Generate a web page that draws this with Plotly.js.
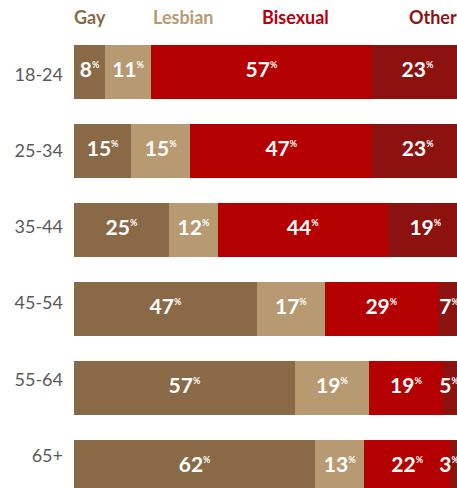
<!DOCTYPE html>
<html>
<head>
<meta charset="utf-8">
<script src="https://cdn.plot.ly/plotly-3.0.1.min.js"></script>
<style>html,body{margin:0;padding:0;background:#fff;}#chart{width:457px;height:488px;}</style>
</head>
<body>
<div id="chart"></div>
<script>
// Age groups (top to bottom)
const ageGroups = ["18-24", "25-34", "35-44", "45-54", "55-64", "65+"];
// Series names
const seriesNames = ["Gay", "Lesbian", "Bisexual", "Other"];
// Bar widths (% of each age group)
const gayValues      = [8.0, 14.7, 24.4, 47.0, 56.8, 62.0];
const lesbianValues  = [11.8, 15.2, 12.6, 17.5, 19.0, 12.6];
const bisexualValues = [56.8, 46.8, 43.6, 29.0, 19.1, 22.1];
const otherValues    = [23.4, 23.3, 19.4, 6.5, 5.1, 3.3];
// Printed percentage labels
const gayLabels      = [8, 15, 25, 47, 57, 62];
const lesbianLabels  = [11, 15, 12, 17, 19, 13];
const bisexualLabels = [57, 47, 44, 29, 19, 22];
const otherLabels    = [23, 23, 19, 7, 5, 3];

const colors = ["#8A6A46", "#B89A72", "#B40000", "#8C1210"];
const headerColors = ["#8A6A46", "#B89A72", "#B5000F", "#8C1515"];

const allValues = [gayValues, lesbianValues, bisexualValues, otherValues];
const allLabels = [gayLabels, lesbianLabels, bisexualLabels, otherLabels];
const idx = ageGroups.map((_, i) => i);

const traces = [];
allValues.forEach((vals, s) => {
  traces.push({
    type: "bar", orientation: "h", name: seriesNames[s],
    x: vals, y: idx, width: 0.68,
    marker: {color: colors[s], line: {width: 0}},
    hoverinfo: "skip", showlegend: false
  });
});

// Label positions: middle of each stacked segment (kept inside the visible area)
const tx = [], ty = [], tt = [];
const cum = idx.map(() => 0);
allValues.forEach((vals, s) => {
  vals.forEach((v, i) => {
    const mid = cum[i] + v / 2;
    cum[i] += v;
    tx.push(Math.min(mid, 96.4));
    ty.push(i);
    tt.push(allLabels[s][i] + '<sup><span style="font-size:9px">%</span></sup>');
  });
});
traces.push({
  type: "scatter", mode: "text", x: tx, y: ty, text: tt,
  textposition: "middle center",
  textfont: {family: "Lato, sans-serif", size: 21, color: "#ffffff", weight: 700},
  hoverinfo: "skip", showlegend: false, cliponaxis: true
});
// empty trace that only registers the label axis
traces.push({type: "scatter", mode: "markers", x: [], y: [], yaxis: "y2",
             hoverinfo: "skip", showlegend: false});

const headerX = [0.0426, 0.2833, 0.5796, 0.9386];
const annotations = seriesNames.map((n, s) => ({
  text: n, xref: "paper", yref: "paper", x: headerX[s], y: 1.0337,
  xanchor: "center", yanchor: "middle", showarrow: false,
  font: {family: "Lato, sans-serif", size: 18, color: headerColors[s], weight: 700}
}));

const layout = {
  width: 457, height: 488,
  margin: {l: 74, r: 0, t: 32, b: 0, pad: 0},
  paper_bgcolor: "#ffffff", plot_bgcolor: "#ffffff",
  barmode: "stack", showlegend: false,
  xaxis: {range: [0, 98.46], visible: false, fixedrange: true},
  yaxis: {range: [5.268, -0.5044], showticklabels: false, showgrid: false,
          zeroline: false, showline: false, ticks: "", fixedrange: true},
  yaxis2: {overlaying: "y", side: "left", anchor: "x",
           range: [5.430, -0.5653], tickmode: "array",
           tickvals: idx, ticktext: ageGroups,
           showgrid: false, zeroline: false, showline: false, ticks: "",
           ticklabelstandoff: 10, automargin: false,
           tickfont: {family: "Lato, sans-serif", size: 18, color: "#5a5a5a"},
           fixedrange: true},
  annotations: annotations,
  font: {family: "Lato, sans-serif"}
};

Plotly.newPlot("chart", traces, layout, {displayModeBar: false, staticPlot: true});
</script>
</body>
</html>
